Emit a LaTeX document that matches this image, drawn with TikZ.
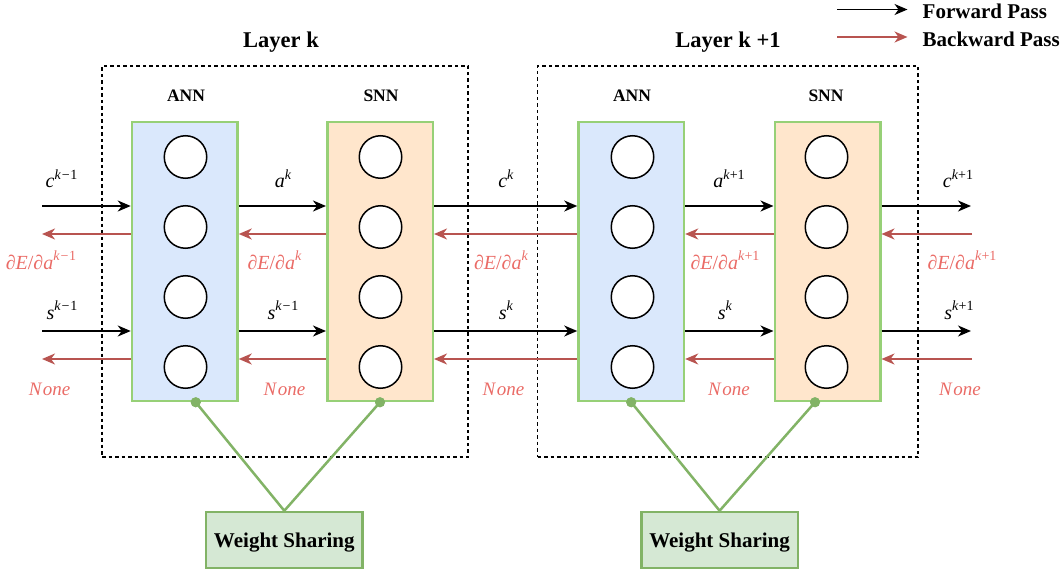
\documentclass[tikz,border=0pt]{standalone}
\usepackage{fontspec}
\setmainfont{Liberation Serif}
\usetikzlibrary{arrows.meta,calc}
\definecolor{annfill}{HTML}{DAE8FC}
\definecolor{snnfill}{HTML}{FFE6CC}
\definecolor{boxgreen}{HTML}{97D077}
\definecolor{wsfill}{HTML}{D5E8D4}
\definecolor{wsline}{HTML}{82B366}
\definecolor{bwdcol}{HTML}{B85450}
\definecolor{lblred}{HTML}{EA6B66}
\newcommand\supx[1]{\raisebox{0.42em}{\fontsize{14}{14}\selectfont #1}}
\newcommand\mi[1]{\textit{#1}}
\newcommand\mminus{\kern0.8pt−\kern0.8pt}
\tikzset{
  layerbox/.style={draw, line width=1.3pt, dash pattern=on 3.5pt off 3pt, minimum height=391pt, inner sep=0},
  netbox/.style={draw=boxgreen, line width=2.5pt, minimum width=105.5pt, minimum height=279pt, inner sep=0},
  neuron/.style={circle, draw, line width=1.5pt, minimum size=42.5pt, fill=white, inner sep=0},
  fwd/.style={-{Stealth[length=13pt,width=11pt,inset=4pt]}, line width=1.6pt},
  bwd/.style={-{Stealth[length=13pt,width=11pt,inset=4pt]}, line width=1.6pt, draw=bwdcol, color=bwdcol},
  lbl/.style={font=\fontsize{20}{22}\selectfont, anchor=base, inner sep=0},
  rlbl/.style={lbl, text=lblred},
  nonelbl/.style={rlbl, font=\fontsize{19}{22}\selectfont},
  ttl/.style={font=\bfseries\fontsize{22.5}{26}\selectfont, anchor=base, inner sep=0},
  nettl/.style={font=\bfseries\fontsize{17.5}{20}\selectfont, anchor=base, inner sep=0},
  legtxt/.style={font=\bfseries\fontsize{21}{24}\selectfont, anchor=base west, inner sep=0},
  wsbox/.style={draw=wsline, fill=wsfill, line width=2.5pt, minimum width=156.5pt, minimum height=56pt, inner sep=0, text depth=0pt, font=\bfseries\fontsize{21}{24}\selectfont},
  share/.style={draw=wsline, line width=2.5pt},
  sdot/.style={circle, fill=wsline, inner sep=0, minimum size=10pt}
}
\begin{document}
\begin{tikzpicture}[x=1pt,y=-1pt]
\useasboundingbox (0,0) rectangle (1062,572);

% layer boxes
\node[layerbox, minimum width=366pt] (lay1) at (285,261.5) {};
\node[layerbox, minimum width=380.5pt] (lay2) at (727.75,261.5) {};

% titles
\node[ttl] (t1) at (281,48) {Layer k};
\node[ttl] (t2) at (728,48) {Layer k +1};
\node[nettl] (n1) at (186,102) {ANN};
\node[nettl] (n2) at (381,102) {SNN};
\node[nettl] (n3) at (632,102) {ANN};
\node[nettl] (n4) at (826,102) {SNN};

% network boxes
\node[netbox, fill=annfill] (ann1) at (184.75,261.5) {};
\node[netbox, fill=snnfill] (snn1) at (380,261.5) {};
\node[netbox, fill=annfill] (ann2) at (631.2,261.5) {};
\node[netbox, fill=snnfill] (snn2) at (827.5,261.5) {};

\foreach \b/\x in {a/185.5,b/380.5,c/632.5,d/826.5}{
  \foreach \i/\y in {1/157,2/227,3/297,4/367}{
    \node[neuron] (c\b\i) at (\x,\y) {};
  }
}

% free ends
\coordinate (inA) at (42,206);
\coordinate (inB) at (42,234);
\coordinate (inC) at (42,331);
\coordinate (inD) at (42,359);
\coordinate (outA) at (971,206);
\coordinate (outB) at (972,234);
\coordinate (outC) at (971,331);
\coordinate (outD) at (972,359);

% forward arrows
\draw[fwd] (inA) -- (inA -| ann1.west);
\draw[fwd] (ann1.east |- inA) -- (snn1.west |- inA);
\draw[fwd] (snn1.east |- inA) -- (ann2.west |- inA);
\draw[fwd] (ann2.east |- inA) -- (snn2.west |- inA);
\draw[fwd] (snn2.east |- inA) -- (outA);
\draw[fwd] (inC) -- (inC -| ann1.west);
\draw[fwd] (ann1.east |- inC) -- (snn1.west |- inC);
\draw[fwd] (snn1.east |- inC) -- (ann2.west |- inC);
\draw[fwd] (ann2.east |- inC) -- (snn2.west |- inC);
\draw[fwd] (snn2.east |- inC) -- (outC);

% backward arrows
\draw[bwd] (ann1.west |- inB) -- (inB);
\draw[bwd] (snn1.west |- inB) -- (ann1.east |- inB);
\draw[bwd] (ann2.west |- inB) -- (snn1.east |- inB);
\draw[bwd] (snn2.west |- inB) -- (ann2.east |- inB);
\draw[bwd] (outB) -- (snn2.east |- outB);
\draw[bwd] (ann1.west |- inD) -- (inD);
\draw[bwd] (snn1.west |- inD) -- (ann1.east |- inD);
\draw[bwd] (ann2.west |- inD) -- (snn1.east |- inD);
\draw[bwd] (snn2.west |- inD) -- (ann2.east |- inD);
\draw[bwd] (outD) -- (snn2.east |- outD);

% labels forward
\node[lbl] (la1) at (61.6,188) {\mi{c}\supx{\mi{k}\mminus1}};
\node[lbl] (la2) at (283,188) {\mi{a}\supx{\mi{k}}};
\node[lbl] (la3) at (506,188) {\mi{c}\supx{\mi{k}}};
\node[lbl] (la4) at (729,188) {\mi{a}\supx{\mi{k}+1}};
\node[lbl] (la5) at (958,188) {\mi{c}\supx{\mi{k}+1}};
\node[lbl] (ls1) at (62,319) {\mi{s}\supx{\mi{k}\mminus1}};
\node[lbl] (ls2) at (283,319) {\mi{s}\supx{\mi{k}\mminus1}};
\node[lbl] (ls3) at (506,319) {\mi{s}\supx{\mi{k}}};
\node[lbl] (ls4) at (725,319) {\mi{s}\supx{\mi{k}}};
\node[lbl] (ls5) at (959,319) {\mi{s}\supx{\mi{k}+1}};

% labels backward
\node[rlbl] (lg1) at (41,269) {\mi{∂E}/\mi{∂a}\supx{\mi{k}\mminus1}};
\node[rlbl] (lg2) at (274.5,269) {\mi{∂E}/\mi{∂a}\supx{\mi{k}}};
\node[rlbl] (lg3) at (501,269) {\mi{∂E}/\mi{∂a}\supx{\mi{k}}};
\node[rlbl] (lg4) at (725,269) {\mi{∂E}/\mi{∂a}\supx{\mi{k}+1}};
\node[rlbl] (lg5) at (962,269) {\mi{∂E}/\mi{∂a}\supx{\mi{k}+1}};
\node[nonelbl] (ln1) at (49.6,395) {\mi{N\kern1.5pt one}};
\node[nonelbl] (ln2) at (284.5,395) {\mi{N\kern1.5pt one}};
\node[nonelbl] (ln3) at (503.5,395) {\mi{N\kern1.5pt one}};
\node[nonelbl] (ln4) at (729,395) {\mi{N\kern1.5pt one}};
\node[nonelbl] (ln5) at (960,395) {\mi{N\kern1.5pt one}};

% weight sharing
\node[wsbox] (ws1) at (284.3,540) {Weight Sharing};
\node[wsbox] (ws2) at (719.6,540) {Weight Sharing};
\node[sdot] (d1) at ([xshift=11pt]ann1.south) {};
\node[sdot] (d2) at (snn1.south) {};
\node[sdot] (d3) at (ann2.south) {};
\node[sdot] (d4) at ([xshift=-12.5pt]snn2.south) {};
\draw[share] (d1.center) -- (ws1.north) -- (d2.center);
\draw[share] (d3.center) -- (ws2.north) -- (d4.center);
\node[sdot] at (d1) {};
\node[sdot] at (d2) {};
\node[sdot] at (d3) {};
\node[sdot] at (d4) {};

% legend
\node[legtxt] (fp) at (922.5,19) {Forward Pass};
\node[legtxt] (bp) at (922.5,47) {Backward Pass};
\coordinate (lgA) at (837,9.5);
\coordinate (lgB) at (837,37);
\draw[fwd, line width=1.4pt, shorten >=15pt] (lgA) -- (lgA -| fp.west);
\draw[bwd, line width=1.4pt, shorten >=15pt] (lgB) -- (lgB -| bp.west);
\end{tikzpicture}
\end{document}
